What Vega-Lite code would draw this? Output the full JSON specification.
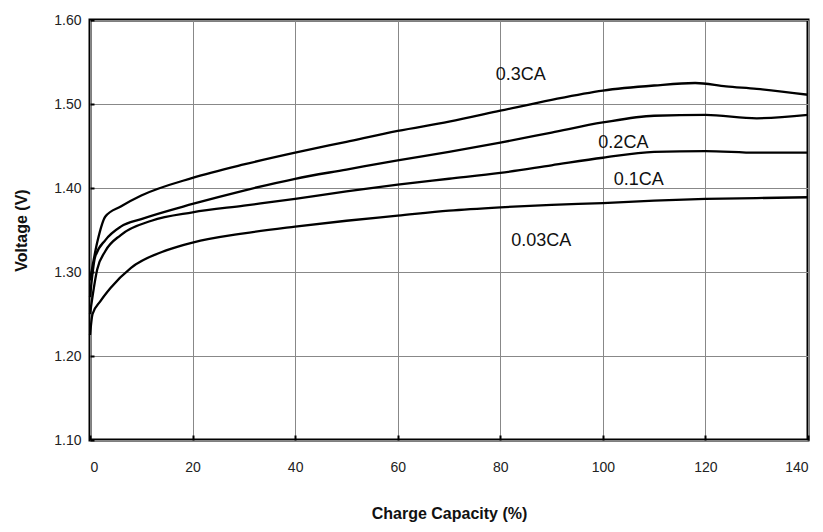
{
  "$schema": "https://vega.github.io/schema/vega-lite/v6.json",
  "width": 718,
  "height": 420,
  "autosize": {"type": "none"},
  "padding": {"left": 90, "top": 20, "right": 15, "bottom": 92},
  "background": "white",
  "config": {
    "view": {"stroke": "black", "strokeWidth": 3},
    "font": "Liberation Sans"
  },
  "datasets": {
    "curves": [
      {"cap": 0, "v": 1.29, "rate": "0.3CA"},
      {"cap": 1.4, "v": 1.335, "rate": "0.3CA"},
      {"cap": 3, "v": 1.366, "rate": "0.3CA"},
      {"cap": 6, "v": 1.378, "rate": "0.3CA"},
      {"cap": 10, "v": 1.391, "rate": "0.3CA"},
      {"cap": 20, "v": 1.412, "rate": "0.3CA"},
      {"cap": 30, "v": 1.428, "rate": "0.3CA"},
      {"cap": 40, "v": 1.442, "rate": "0.3CA"},
      {"cap": 50, "v": 1.455, "rate": "0.3CA"},
      {"cap": 60, "v": 1.468, "rate": "0.3CA"},
      {"cap": 70, "v": 1.479, "rate": "0.3CA"},
      {"cap": 80, "v": 1.492, "rate": "0.3CA"},
      {"cap": 90, "v": 1.505, "rate": "0.3CA"},
      {"cap": 100, "v": 1.516, "rate": "0.3CA"},
      {"cap": 110, "v": 1.522, "rate": "0.3CA"},
      {"cap": 118, "v": 1.525, "rate": "0.3CA"},
      {"cap": 124, "v": 1.521, "rate": "0.3CA"},
      {"cap": 130, "v": 1.518, "rate": "0.3CA"},
      {"cap": 140, "v": 1.511, "rate": "0.3CA"},

      {"cap": 0, "v": 1.27, "rate": "0.2CA"},
      {"cap": 1, "v": 1.318, "rate": "0.2CA"},
      {"cap": 3, "v": 1.338, "rate": "0.2CA"},
      {"cap": 6, "v": 1.354, "rate": "0.2CA"},
      {"cap": 10, "v": 1.363, "rate": "0.2CA"},
      {"cap": 20, "v": 1.381, "rate": "0.2CA"},
      {"cap": 30, "v": 1.397, "rate": "0.2CA"},
      {"cap": 40, "v": 1.411, "rate": "0.2CA"},
      {"cap": 50, "v": 1.422, "rate": "0.2CA"},
      {"cap": 60, "v": 1.433, "rate": "0.2CA"},
      {"cap": 70, "v": 1.443, "rate": "0.2CA"},
      {"cap": 80, "v": 1.454, "rate": "0.2CA"},
      {"cap": 90, "v": 1.466, "rate": "0.2CA"},
      {"cap": 100, "v": 1.478, "rate": "0.2CA"},
      {"cap": 110, "v": 1.486, "rate": "0.2CA"},
      {"cap": 120, "v": 1.487, "rate": "0.2CA"},
      {"cap": 130, "v": 1.483, "rate": "0.2CA"},
      {"cap": 140, "v": 1.487, "rate": "0.2CA"},

      {"cap": 0, "v": 1.25, "rate": "0.1CA"},
      {"cap": 1.4, "v": 1.303, "rate": "0.1CA"},
      {"cap": 3, "v": 1.325, "rate": "0.1CA"},
      {"cap": 6, "v": 1.344, "rate": "0.1CA"},
      {"cap": 12, "v": 1.361, "rate": "0.1CA"},
      {"cap": 20, "v": 1.371, "rate": "0.1CA"},
      {"cap": 30, "v": 1.379, "rate": "0.1CA"},
      {"cap": 40, "v": 1.387, "rate": "0.1CA"},
      {"cap": 50, "v": 1.396, "rate": "0.1CA"},
      {"cap": 60, "v": 1.404, "rate": "0.1CA"},
      {"cap": 70, "v": 1.411, "rate": "0.1CA"},
      {"cap": 80, "v": 1.418, "rate": "0.1CA"},
      {"cap": 90, "v": 1.427, "rate": "0.1CA"},
      {"cap": 100, "v": 1.436, "rate": "0.1CA"},
      {"cap": 110, "v": 1.443, "rate": "0.1CA"},
      {"cap": 120, "v": 1.444, "rate": "0.1CA"},
      {"cap": 130, "v": 1.442, "rate": "0.1CA"},
      {"cap": 140, "v": 1.442, "rate": "0.1CA"},

      {"cap": 0, "v": 1.225, "rate": "0.03CA"},
      {"cap": 0.5, "v": 1.25, "rate": "0.03CA"},
      {"cap": 2, "v": 1.265, "rate": "0.03CA"},
      {"cap": 4, "v": 1.281, "rate": "0.03CA"},
      {"cap": 8, "v": 1.305, "rate": "0.03CA"},
      {"cap": 15, "v": 1.326, "rate": "0.03CA"},
      {"cap": 20, "v": 1.335, "rate": "0.03CA"},
      {"cap": 30, "v": 1.346, "rate": "0.03CA"},
      {"cap": 40, "v": 1.354, "rate": "0.03CA"},
      {"cap": 50, "v": 1.361, "rate": "0.03CA"},
      {"cap": 60, "v": 1.367, "rate": "0.03CA"},
      {"cap": 70, "v": 1.373, "rate": "0.03CA"},
      {"cap": 80, "v": 1.377, "rate": "0.03CA"},
      {"cap": 90, "v": 1.38, "rate": "0.03CA"},
      {"cap": 100, "v": 1.382, "rate": "0.03CA"},
      {"cap": 110, "v": 1.385, "rate": "0.03CA"},
      {"cap": 120, "v": 1.387, "rate": "0.03CA"},
      {"cap": 130, "v": 1.388, "rate": "0.03CA"},
      {"cap": 140, "v": 1.389, "rate": "0.03CA"}
    ],
    "labels": [
      {"cap": 84, "v": 1.535, "text": "0.3CA"},
      {"cap": 104, "v": 1.453, "text": "0.2CA"},
      {"cap": 107, "v": 1.41, "text": "0.1CA"},
      {"cap": 88, "v": 1.337, "text": "0.03CA"}
    ]
  },
  "layer": [
    {
      "data": {"name": "curves"},
      "mark": {"type": "line", "color": "black", "strokeWidth": 2.3, "interpolate": "monotone"},
      "encoding": {
        "x": {
          "field": "cap", "type": "quantitative",
          "scale": {"domain": [0, 140], "nice": false},
          "axis": {
            "title": "Charge Capacity (%)", "values": [0, 20, 40, 60, 80, 100, 120, 140],
            "grid": true, "gridColor": "#888", "gridWidth": 1,
            "domain": false, "ticks": true, "tickSize": -5, "tickColor": "black", "tickWidth": 2,
            "labelFontSize": 14, "labelColor": "#222", "labelPadding": 25,
            "titleFontSize": 16, "titleFontWeight": "bold", "titleColor": "#111", "titlePadding": 31
          }
        },
        "y": {
          "field": "v", "type": "quantitative",
          "scale": {"domain": [1.1, 1.6], "nice": false, "zero": false},
          "axis": {
            "title": "Voltage (V)", "values": [1.1, 1.2, 1.3, 1.4, 1.5, 1.6], "format": ".2f",
            "grid": true, "gridColor": "#888", "gridWidth": 1,
            "domain": false, "ticks": true, "tickSize": -4, "tickColor": "black", "tickWidth": 2,
            "labelFontSize": 14, "labelColor": "#222", "labelPadding": 13,
            "titleFontSize": 16, "titleFontWeight": "bold", "titleColor": "#111", "titlePadding": 24
          }
        },
        "detail": {"field": "rate", "type": "nominal"}
      }
    },
    {
      "data": {"name": "labels"},
      "mark": {"type": "text", "fontSize": 18, "color": "#111", "align": "center", "baseline": "middle"},
      "encoding": {
        "x": {"field": "cap", "type": "quantitative"},
        "y": {"field": "v", "type": "quantitative"},
        "text": {"field": "text"}
      }
    }
  ]
}
